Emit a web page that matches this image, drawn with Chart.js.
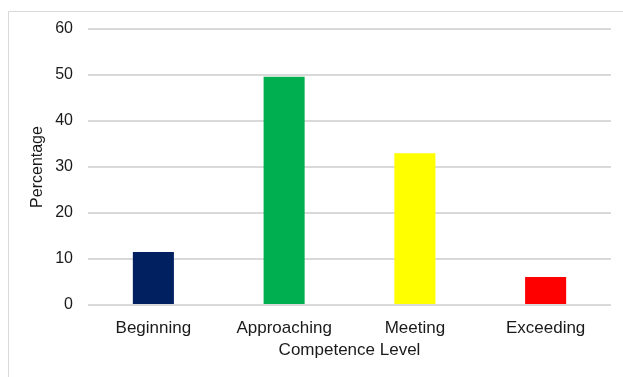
<!DOCTYPE html>
<html>
<head>
<meta charset="utf-8">
<script src="https://cdn.jsdelivr.net/npm/chart.js@4"></script>
<style>
  html, body { margin: 0; padding: 0; background: #fff; }
  #wrap { width: 623px; height: 377px; position: relative; }
</style>
</head>
<body>
<div id="wrap"><canvas id="container" width="623" height="377"></canvas></div>
<script>
const levels = ['Beginning', 'Approaching', 'Meeting', 'Exceeding'];
const percentages = [11.5, 49.6, 33, 6.1];
const barColors = ['#002060', '#00B050', '#FFFF00', '#FF0000'];

// light gray frame, left and top edges visible
const framePlugin = {
  id: 'frame',
  beforeDraw(chart) {
    const c = chart.ctx;
    c.save();
    c.strokeStyle = '#d9d9d9';
    c.lineWidth = 1;
    c.beginPath();
    c.moveTo(8.5, 377);
    c.lineTo(8.5, 11.5);
    c.lineTo(623, 11.5);
    c.stroke();
    c.restore();
  }
};

Chart.defaults.font.family = 'Liberation Sans, Arial, sans-serif';
Chart.defaults.color = '#1a1a1a';

new Chart(document.getElementById('container'), {
  type: 'bar',
  data: {
    labels: levels,
    datasets: [{
      data: percentages,
      backgroundColor: barColors,
      barPercentage: 0.314,
      categoryPercentage: 1
    }]
  },
  options: {
    responsive: false,
    animation: false,
    layout: { padding: { left: 8, top: 29, right: 12, bottom: 0 } },
    plugins: { legend: { display: false }, tooltip: { enabled: false } },
    scales: {
      x: {
        grid: { display: false },
        border: { display: false },
        ticks: { font: { size: 17 }, padding: 5 },
        title: { display: true, text: 'Competence Level', font: { size: 17 }, padding: { top: 0, bottom: 16 } },
        afterFit(scale) { scale.height = 72; }
      },
      y: {
        min: 0,
        max: 60,
        ticks: { stepSize: 10, font: { size: 16 }, padding: 15 },
        grid: { color: '#d9d9d9', lineWidth: 2, drawTicks: false },
        border: { display: false },
        title: { display: true, text: 'Percentage', font: { size: 16 }, padding: { top: 20, bottom: 0 } },
        afterFit(scale) { scale.width = 80; }
      }
    }
  },
  plugins: [framePlugin]
});
</script>
</body>
</html>
